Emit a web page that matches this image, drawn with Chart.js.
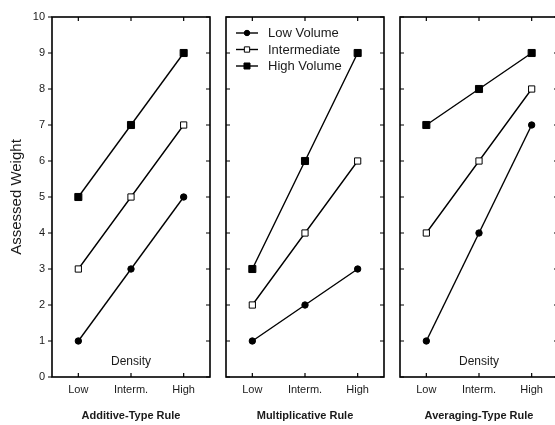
<!DOCTYPE html>
<html>
<head>
<meta charset="utf-8">
<script src="https://cdn.jsdelivr.net/npm/chart.js@4.4.0/dist/chart.umd.min.js"></script>
<style>
html, body { margin: 0; padding: 0; background: #fff; }
#wrap { position: relative; width: 555px; height: 425px; overflow: hidden; }
#wrap canvas { position: absolute; left: 0; top: 0; }
</style>
</head>
<body>
<div id="wrap">
<canvas id="chart1" width="600" height="425"></canvas>
<canvas id="chart2" width="600" height="425"></canvas>
<canvas id="chart3" width="600" height="425"></canvas>
</div>
<script>
// datos
var densidad = ['Low', 'Interm.', 'High'];
var series = ['Low Volume', 'Intermediate', 'High Volume'];

var aditivoLow = [1, 3, 5];
var aditivoInterm = [3, 5, 7];
var aditivoHigh = [5, 7, 9];

var multiLow = [1, 2, 3];
var multiInterm = [2, 4, 6];
var multiHigh = [3, 6, 9];

var promedioLow = [1, 4, 7];
var promedioInterm = [4, 6, 8];
var promedioHigh = [7, 8, 9];

var yMin = 0, yMax = 10;

Chart.defaults.font.family = "'Liberation Sans', Arial, sans-serif";
Chart.defaults.color = '#1a1a1a';

var estilos = [
    { pointStyle: 'circle', pointRadius: 3.2, pointBackgroundColor: '#000' },
    { pointStyle: 'rect', pointRadius: 4.4, pointBackgroundColor: '#fff' },
    { pointStyle: 'rect', pointRadius: 5, pointBackgroundColor: '#000' }
];

function armarDatasets(a, b, c) {
    return [a, b, c].map(function(d, i) {
        return {
            label: series[i],
            data: d,
            borderColor: '#000',
            borderWidth: 1.4,
            pointStyle: estilos[i].pointStyle,
            pointRadius: estilos[i].pointRadius,
            pointBackgroundColor: estilos[i].pointBackgroundColor,
            pointBorderColor: '#000',
            pointBorderWidth: 1,
            tension: 0
        };
    });
}

// marco con marcas hacia adentro, texto "Density" y leyenda
var marcoPlugin = {
    id: 'marco',
    afterDatasetsDraw: function(chart, args, opts) {
        var ctx = chart.ctx;
        var a = chart.chartArea;
        var xs = chart.scales.x, ys = chart.scales.y;
        ctx.save();
        ctx.strokeStyle = '#000';
        ctx.lineWidth = 1.6;
        ctx.strokeRect(a.left, a.top, a.right - a.left, a.bottom - a.top);
        ctx.lineWidth = 1.2;
        ctx.beginPath();
        for (var i = 0; i < densidad.length; i++) {
            var px = xs.getPixelForValue(i);
            ctx.moveTo(px, a.top); ctx.lineTo(px, a.top + 4);
            ctx.moveTo(px, a.bottom); ctx.lineTo(px, a.bottom - 4);
        }
        for (var v = yMin; v <= yMax; v++) {
            var py = ys.getPixelForValue(v);
            if (opts.fuera) {
                ctx.moveTo(a.left, py); ctx.lineTo(a.left - 4, py);
            } else {
                ctx.moveTo(a.left, py); ctx.lineTo(a.left + 4, py);
            }
            ctx.moveTo(a.right, py); ctx.lineTo(a.right - 4, py);
        }
        ctx.stroke();

        if (opts.density) {
            ctx.fillStyle = '#1a1a1a';
            ctx.font = "12px 'Liberation Sans', Arial, sans-serif";
            ctx.textAlign = 'center';
            ctx.textBaseline = 'middle';
            ctx.fillText('Density', (a.left + a.right) / 2, 362);
        }

        if (opts.leyenda) {
            ctx.font = "13px 'Liberation Sans', Arial, sans-serif";
            ctx.textAlign = 'left';
            ctx.textBaseline = 'middle';
            chart.data.datasets.forEach(function(ds, i) {
                var y = a.top + 16 + i * 16.5;
                var x0 = a.left + 10;
                ctx.strokeStyle = '#000';
                ctx.lineWidth = 1.4;
                ctx.beginPath();
                ctx.moveTo(x0, y); ctx.lineTo(x0 + 22, y);
                ctx.stroke();
                ctx.fillStyle = ds.pointBackgroundColor;
                ctx.lineWidth = 1;
                Chart.helpers.drawPoint(ctx, {
                    pointStyle: ds.pointStyle,
                    radius: ds.pointRadius * 0.85,
                    rotation: 0,
                    borderWidth: 1
                }, x0 + 11, y);
                ctx.fillStyle = '#1a1a1a';
                ctx.fillText(ds.label, x0 + 32, y + 0.5);
            });
        }
        ctx.restore();
    }
};

function armarPanel(id, izq, der, titulo, datasets, conEjeY, conDensity, conLeyenda) {
    var ctx = document.getElementById(id).getContext('2d');
    return new Chart(ctx, {
        type: 'line',
        data: {
            labels: densidad,
            datasets: datasets
        },
        options: {
            responsive: false,
            animation: false,
            events: [],
            layout: {
                padding: { left: conEjeY ? 8 : izq, right: 600 - der, top: 17, bottom: 0 }
            },
            plugins: {
                legend: { display: false },
                tooltip: { enabled: false },
                marco: { density: conDensity, leyenda: conLeyenda, fuera: conEjeY }
            },
            scales: {
                x: {
                    type: 'category',
                    offset: true,
                    grid: { display: false, drawTicks: false },
                    border: { display: false },
                    ticks: { font: { size: 11 }, padding: 6, maxRotation: 0, autoSkip: false },
                    title: {
                        display: true,
                        text: titulo,
                        font: { size: 11, weight: 'bold' },
                        padding: { top: 0, bottom: 2 }
                    },
                    afterFit: function(scale) { scale.height = 48; }
                },
                y: {
                    display: conEjeY,
                    min: yMin,
                    max: yMax,
                    grid: { display: false, drawTicks: false },
                    border: { display: false },
                    ticks: { stepSize: 1, font: { size: 11 }, padding: 7 },
                    title: {
                        display: true,
                        text: 'Assessed Weight',
                        font: { size: 15 },
                        padding: { top: 0, bottom: 0 }
                    },
                    afterFit: function(scale) { scale.width = conEjeY ? 44 : 0; }
                }
            }
        },
        plugins: [marcoPlugin]
    });
}

var chart1 = armarPanel('chart1', 52, 210, 'Additive-Type Rule',
    armarDatasets(aditivoLow, aditivoInterm, aditivoHigh), true, true, false);
var chart2 = armarPanel('chart2', 226, 384, 'Multiplicative Rule',
    armarDatasets(multiLow, multiInterm, multiHigh), false, false, true);
var chart3 = armarPanel('chart3', 400, 558, 'Averaging-Type Rule',
    armarDatasets(promedioLow, promedioInterm, promedioHigh), false, true, false);
</script>
</body>
</html>
